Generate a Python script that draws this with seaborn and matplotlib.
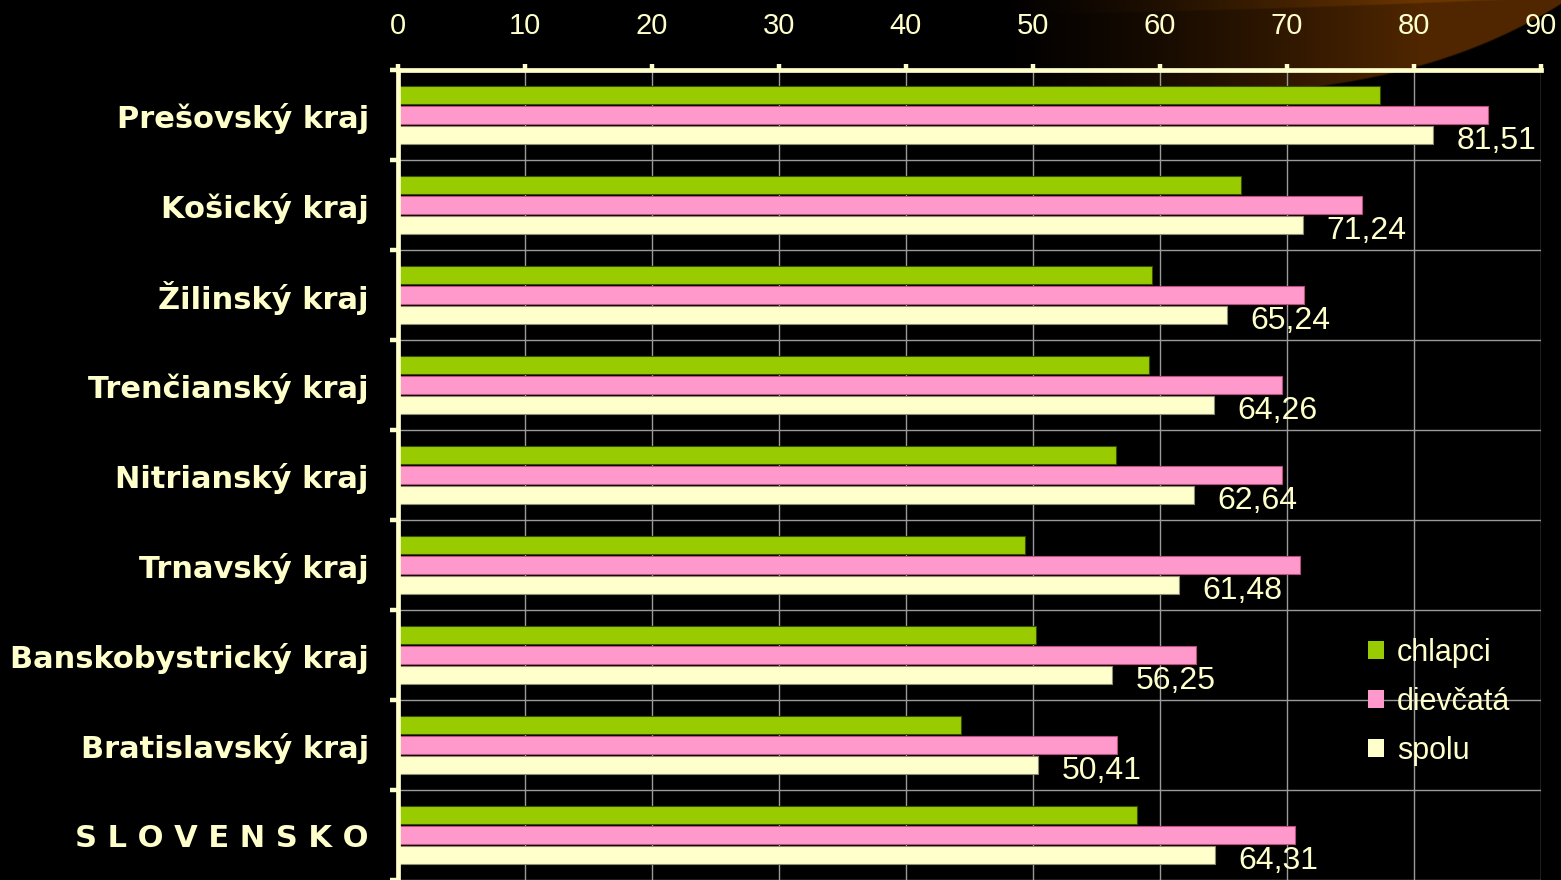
import numpy as np
import pandas as pd
import matplotlib
matplotlib.use("Agg")
import matplotlib.pyplot as plt
import seaborn as sns

# ---- data ----
categories = ["Prešovský kraj", "Košický kraj", "Žilinský kraj", "Trenčianský kraj",
              "Nitrianský kraj", "Trnavský kraj", "Banskobystrický kraj",
              "Bratislavský kraj", "S L O V E N S K O"]
series_names = ["chlapci", "dievčatá", "spolu"]
chlapci = [77.3, 66.4, 59.4, 59.1, 56.5, 49.4, 50.2, 44.3, 58.2]
dievcata = [85.8, 75.9, 71.3, 69.6, 69.6, 71.0, 62.8, 56.6, 70.6]
spolu = [81.51, 71.24, 65.24, 64.26, 62.64, 61.48, 56.25, 50.41, 64.31]
x_ticks = [0, 10, 20, 30, 40, 50, 60, 70, 80, 90]

colors = ["#99CC00", "#FF99CC", "#FFFFCC"]
edge_colors = ["#3a4d00", "#b8507e", "#8c8c70"]
cream = "#FFFFCC"

df = pd.DataFrame({
    "region": categories * 3,
    "series": [series_names[0]] * 9 + [series_names[1]] * 9 + [series_names[2]] * 9,
    "value": chlapci + dievcata + spolu,
})

sns.set_theme(style="white")
plt.rcParams["font.family"] = ["DejaVu Sans"]
num_family = ["Liberation Sans Narrow", "Liberation Sans", "DejaVu Sans"]

W, H = 1561, 880
fig = plt.figure(figsize=(W / 100, H / 100), dpi=100, facecolor="black")

# background decorative swoosh
bg = fig.add_axes([0, 0, 1, 1], zorder=0)
bg.set_xlim(0, W)
bg.set_ylim(H, 0)
bg.axis("off")
bg.set_facecolor("black")
x0, x1, yb = 950, W, 110
xs = np.arange(x0, x1) + 0.5
ys = np.arange(0, yb) + 0.5
XX, YY = np.meshgrid(xs, ys)
t = (XX - x0) / (x1 - x0)
yl = 100 - 95 * t ** 4
tu = np.clip((XX - 1000) / 519.0, 0, 1)
yu = 15 * (1 - tu ** 1.5)
inside = np.clip((yl - YY) / 2.0, 0, 1)
a = np.clip((XX - 990) / 430.0, 0, 1) ** 1.3
upper = np.clip((yu - YY) / 2.0, 0, 1)
base = np.array([0.31, 0.15, 0.0])
light = np.array([0.42, 0.21, 0.0])
rgb = (base[None, None, :] * (1 - upper[..., None]) + light[None, None, :] * upper[..., None]) * a[..., None]
img = np.dstack([rgb, inside])
bg.imshow(img, extent=(x0, x1, yb, 0), aspect="auto", interpolation="bilinear")

ax = fig.add_axes([398 / W, 0, (1541 - 398) / W, 810 / H], zorder=1)
ax.set_facecolor("none")

sns.barplot(data=df, x="value", y="region", hue="series", palette=colors,
            orient="h", width=0.667, gap=0.08, saturation=1, ax=ax, legend=True)

for cont, ec in zip(ax.containers, edge_colors):
    for p in cont.patches:
        p.set_edgecolor(ec)
        p.set_linewidth(0.8)

ax.set_xlim(0, 90)
ax.set_ylim(8.5, -0.5)
ax.set_xlabel("")
ax.set_ylabel("")

ax.xaxis.tick_top()
ax.set_xticks(x_ticks)
ax.set_xticklabels([str(v) for v in x_ticks], color=cream, fontsize=21, family=num_family)
ax.tick_params(axis="x", which="major", direction="out", length=4.5, width=3.2,
               color=cream, pad=17, top=True, bottom=False)

ax.set_yticks(range(len(categories)))
ax.set_yticklabels(categories, color=cream, fontsize=22, fontweight="bold",
                   family=["DejaVu Sans"])
ax.set_yticks(np.arange(-0.5, len(categories), 1), minor=True)
ax.tick_params(axis="y", which="major", length=0, pad=21)
ax.tick_params(axis="y", which="minor", direction="out", length=6, width=3.2,
               color=cream, left=True)

for side in ["right", "bottom"]:
    ax.spines[side].set_visible(False)
for side in ["top", "left"]:
    ax.spines[side].set_visible(True)
    ax.spines[side].set_color(cream)
    ax.spines[side].set_linewidth(3.4)

ax.set_axisbelow(True)
ax.grid(axis="x", which="major", color="#9a9a9a", linewidth=1)
ax.grid(axis="y", which="minor", color="#9a9a9a", linewidth=1)
ax.grid(axis="y", which="major", visible=False)

labels = [f"{v:.2f}".replace(".", ",") for v in spolu]
anns = ax.bar_label(ax.containers[2], labels=labels, padding=17, color=cream, fontsize=23,
                    family=num_family)
for ann in anns:
    ann.xyann = (17, -4)

handles, lbls = ax.get_legend_handles_labels()
leg = ax.legend(handles, lbls, loc="upper left",
                bbox_to_anchor=(1368 / W, 1 - 638 / H), bbox_transform=fig.transFigure,
                frameon=False, borderpad=0, borderaxespad=0,
                handlelength=0.52, handleheight=0.52, handletextpad=0.43,
                labelspacing=0.62,
                prop={"family": ["Liberation Sans", "DejaVu Sans"], "size": 22})
for txt in leg.get_texts():
    txt.set_color(cream)
for h in leg.legend_handles:
    h.set_linewidth(0)

fig.savefig("out.png", dpi=100, facecolor="black")
